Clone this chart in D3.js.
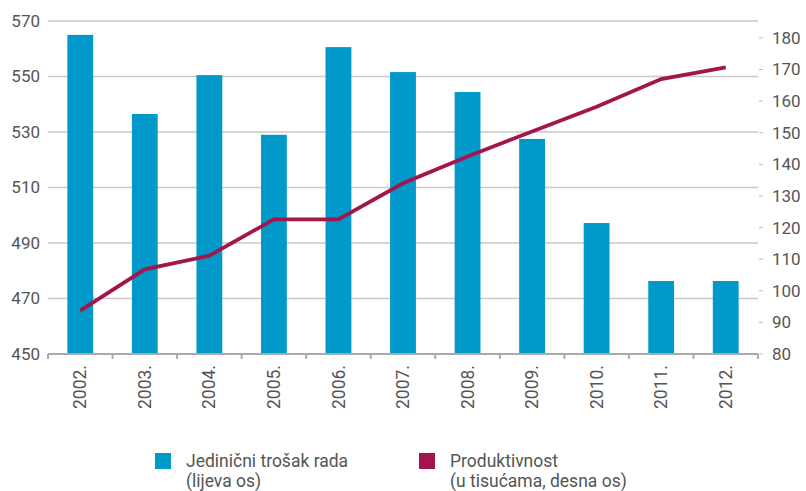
<!DOCTYPE html>
<html>
<head>
<meta charset="utf-8">
<script src="https://cdn.jsdelivr.net/npm/d3@7"></script>
<style>
  body { margin: 0; background: #fff; }
  svg text { font-family: Roboto, "Open Sans", sans-serif; fill: #555; }
</style>
</head>
<body>
<svg id="chart" width="806" height="491"></svg>
<script>
const years = ["2002.", "2003.", "2004.", "2005.", "2006.", "2007.", "2008.", "2009.", "2010.", "2011.", "2012."];
const unitCost = [565, 536.5, 550.5, 529, 560.6, 551.6, 544.4, 527.5, 497.2, 476.3, 476.3];
const productivity = [93.7, 106.8, 111.1, 122.6, 122.6, 134, 142.5, 150.4, 158.2, 167, 170.7];
const leftTicks = [450, 470, 490, 510, 530, 550, 570];
const rightTicks = [80, 90, 100, 110, 120, 130, 140, 150, 160, 170, 180];

const svg = d3.select("#chart");
const margin = { top: 21, right: 48, bottom: 137, left: 48 };
const innerWidth = 806 - margin.left - margin.right;
const innerHeight = 491 - margin.top - margin.bottom;

const g = svg.append("g")
  .attr("transform", `translate(${margin.left},${margin.top})`);

const x = d3.scaleBand()
  .domain(years)
  .range([0, innerWidth])
  .paddingInner(0.6)
  .paddingOuter(0.3);

const yLeft = d3.scaleLinear().domain([450, 570]).range([innerHeight, 0]);
const yRight = d3.scaleLinear().domain([80, 180]).range([innerHeight, yLeft(563.9)]);

// gridlines
g.selectAll(".grid")
  .data(leftTicks.slice(1))
  .join("line")
  .attr("x1", 0)
  .attr("x2", innerWidth)
  .attr("y1", d => yLeft(d))
  .attr("y2", d => yLeft(d))
  .attr("stroke", "#c9c9c9")
  .attr("stroke-width", 1.5);

// left labels
g.selectAll(".lt")
  .data(leftTicks)
  .join("text")
  .attr("x", -8)
  .attr("y", d => yLeft(d))
  .attr("dy", "0.35em")
  .attr("text-anchor", "end")
  .attr("font-size", 17)
  .text(d => d);

// right ticks
const rAxis = g.append("g").attr("transform", `translate(${innerWidth},0)`);
rAxis.selectAll("line")
  .data(rightTicks)
  .join("line")
  .attr("x1", 1).attr("x2", 5)
  .attr("y1", d => yRight(d)).attr("y2", d => yRight(d))
  .attr("stroke", "#bbb");
rAxis.selectAll("text")
  .data(rightTicks)
  .join("text")
  .attr("x", 14)
  .attr("y", d => yRight(d))
  .attr("dy", "0.35em")
  .attr("font-size", 17)
  .text(d => d);

// bars
g.selectAll(".bar")
  .data(unitCost)
  .join("rect")
  .attr("x", (d, i) => x(years[i]))
  .attr("width", x.bandwidth())
  .attr("y", d => yLeft(d))
  .attr("height", d => innerHeight - yLeft(d))
  .attr("fill", "#0099c9");

// bottom axis
const step = innerWidth / years.length;
g.append("line")
  .attr("x1", 0).attr("x2", innerWidth)
  .attr("y1", innerHeight).attr("y2", innerHeight)
  .attr("stroke", "#aaa").attr("stroke-width", 2);
g.selectAll(".xt")
  .data(d3.range(years.length + 1))
  .join("line")
  .attr("x1", d => d * step).attr("x2", d => d * step)
  .attr("y1", innerHeight).attr("y2", innerHeight + 5)
  .attr("stroke", "#aaa").attr("stroke-width", 2);

g.selectAll(".xl")
  .data(years)
  .join("text")
  .attr("transform", d => `translate(${x(d) + x.bandwidth() / 2},${innerHeight + 11}) rotate(-90)`)
  .attr("dy", "0.35em")
  .attr("text-anchor", "end")
  .attr("font-size", 17.5)
  .text(d => d);

// line
const line = d3.line()
  .x((d, i) => x(years[i]) + x.bandwidth() / 2)
  .y(d => yRight(d));

g.append("path")
  .datum(productivity)
  .attr("fill", "none")
  .attr("stroke", "#a3164d")
  .attr("stroke-width", 3.8)
  .attr("stroke-linejoin", "miter")
  .attr("d", line);

// legend
const legend = svg.append("g");
const items = [
  { color: "#0099c9", x: 155, lines: ["Jedinični trošak rada", "(lijeva os)"] },
  { color: "#a3164d", x: 419, lines: ["Produktivnost", "(u tisućama, desna os)"] }
];
items.forEach(it => {
  legend.append("rect")
    .attr("x", it.x).attr("y", 453)
    .attr("width", 16).attr("height", 16)
    .attr("fill", it.color);
  it.lines.forEach((t, i) => {
    legend.append("text")
      .attr("x", it.x + 31)
      .attr("y", 467 + i * 20)
      .attr("font-size", 17.5)
      .text(t);
  });
});
</script>
</body>
</html>
